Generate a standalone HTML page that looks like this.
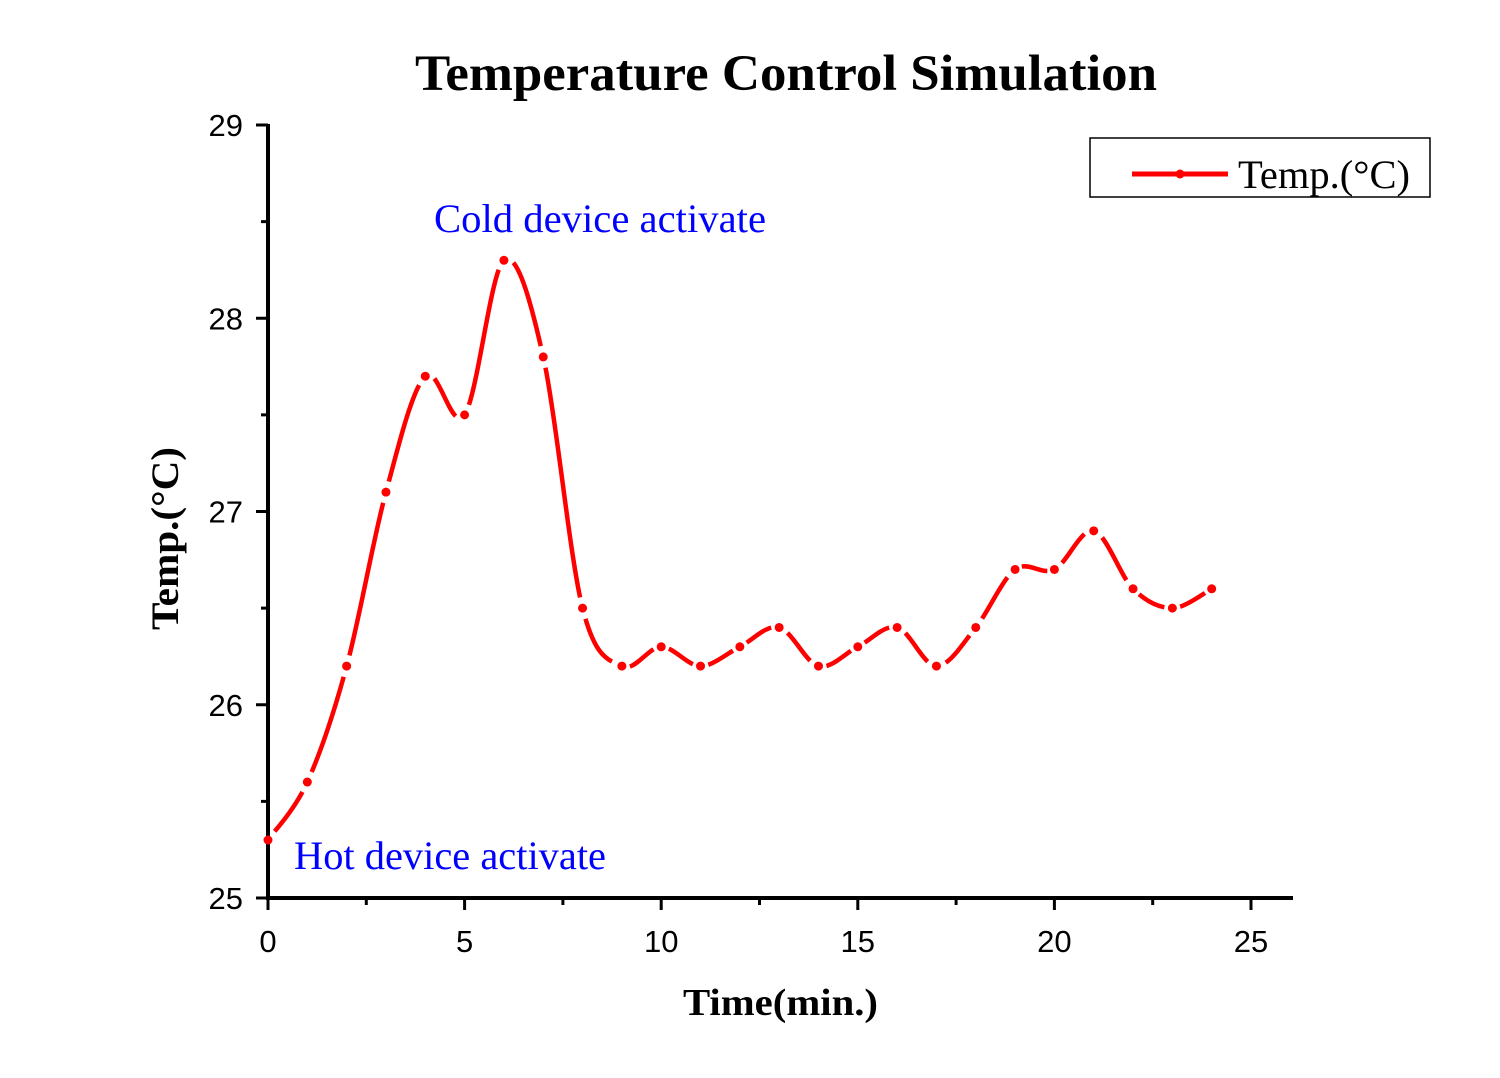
<!DOCTYPE html>
<html><head><meta charset="utf-8"><style>
body{margin:0;background:#fff}
svg{display:block}
</style></head><body>
<svg id="chart" width="1500" height="1078" xmlns="http://www.w3.org/2000/svg">
<rect width="1500" height="1078" fill="#fff"/>
<text x="415" y="90" textLength="742" lengthAdjust="spacingAndGlyphs" font-family="Liberation Serif, serif" font-weight="bold" font-size="51">Temperature Control Simulation</text>
<g id="axes"></g>
<g id="series"></g>
<text x="683" y="1015" textLength="195" lengthAdjust="spacingAndGlyphs" font-family="Liberation Serif, serif" font-weight="bold" font-size="38">Time(min.)</text>
<text transform="translate(178,630) rotate(-90)" textLength="183" lengthAdjust="spacingAndGlyphs" font-family="Liberation Serif, serif" font-weight="bold" font-size="39">Temp.(°C)</text>
<text x="434" y="232" textLength="332" lengthAdjust="spacingAndGlyphs" font-family="Liberation Serif, serif" font-size="40" fill="#0000ff">Cold device activate</text>
<text x="294" y="869" textLength="312" lengthAdjust="spacingAndGlyphs" font-family="Liberation Serif, serif" font-size="40" fill="#0000ff">Hot device activate</text>
<g>
<rect x="1090" y="138" width="340" height="59" fill="#fff" stroke="#000" stroke-width="1.5"/>
<line x1="1132" y1="174" x2="1228" y2="174" stroke="#ff0000" stroke-width="5"/>
<circle cx="1180" cy="174" r="4.5" fill="#ff0000"/>
<text x="1238" y="188" textLength="172" lengthAdjust="spacingAndGlyphs" font-family="Liberation Serif, serif" font-size="40">Temp.(°C)</text>
</g>
</svg>
<script>
const times=[0,1,2,3,4,5,6,7,8,9,10,11,12,13,14,15,16,17,18,19,20,21,22,23,24];
const temps=[25.3,25.6,26.2,27.1,27.7,27.5,28.3,27.8,26.5,26.2,26.3,26.2,26.3,26.4,26.2,26.3,26.4,26.2,26.4,26.7,26.7,26.9,26.6,26.5,26.6];
const xTicks=[0,5,10,15,20,25];
const yTicks=[25,26,27,28,29];
const NS="http://www.w3.org/2000/svg";
const X=v=>268+v*(1251-268)/25;
const Y=v=>898-(v-25)*(898-125)/4;
function mk(tag,attrs,parent){const e=document.createElementNS(NS,tag);for(const k in attrs)e.setAttribute(k,attrs[k]);parent.appendChild(e);return e;}
const ax=document.getElementById('axes');
const xl=mk('line',{x1:266,y1:898,x2:1293,y2:898,stroke:'#000','stroke-width':4},ax);


const yl=mk('line',{x1:268,y1:900,x2:268,y2:124,stroke:'#000','stroke-width':4},ax);


xTicks.forEach(t=>{
 mk('line',{x1:X(t),y1:898,x2:X(t),y2:910,stroke:'#000','stroke-width':3},ax);
 const tx=mk('text',{x:X(t),y:952,'text-anchor':'middle','font-family':'Liberation Sans, sans-serif','font-size':31},ax);
 tx.textContent=t;
 
 
});
for(let t=2.5;t<25;t+=5){mk('line',{x1:X(t),y1:898,x2:X(t),y2:905,stroke:'#000','stroke-width':3},ax);}
yTicks.forEach(t=>{
 mk('line',{x1:256,y1:Y(t),x2:268,y2:Y(t),stroke:'#000','stroke-width':3},ax);
 const tx=mk('text',{x:243,y:Y(t)+11,'text-anchor':'end','font-family':'Liberation Sans, sans-serif','font-size':31},ax);
 tx.textContent=t;
 
 
});
for(let t=25.5;t<29;t+=1){mk('line',{x1:261,y1:Y(t),x2:268,y2:Y(t),stroke:'#000','stroke-width':3},ax);}
const sg=document.getElementById('series');
const P=times.map((t,i)=>[X(t),Y(temps[i])]);
for(let i=0;i<P.length-1;i++){
 const p0=P[Math.max(i-1,0)],p1=P[i],p2=P[i+1],p3=P[Math.min(i+2,P.length-1)];
 const c1=[p1[0]+(p2[0]-p0[0])/6,p1[1]+(p2[1]-p0[1])/6];
 const c2=[p2[0]-(p3[0]-p1[0])/6,p2[1]-(p3[1]-p1[1])/6];
 const path=mk('path',{d:`M${p1[0]},${p1[1]} C${c1[0]},${c1[1]} ${c2[0]},${c2[1]} ${p2[0]},${p2[1]}`,fill:'none',stroke:'#ff0000','stroke-width':4.5},sg);
 
 
 const L=path.getTotalLength();const g=Math.min(11,L*0.18);
 path.setAttribute('stroke-dasharray',`0 ${g} ${L-2*g} ${g+10}`);
}
P.forEach(p=>{
 const c=mk('circle',{cx:p[0],cy:p[1],r:4.5,fill:'#ff0000'},sg);
 
 
});
</script>
</body></html>
